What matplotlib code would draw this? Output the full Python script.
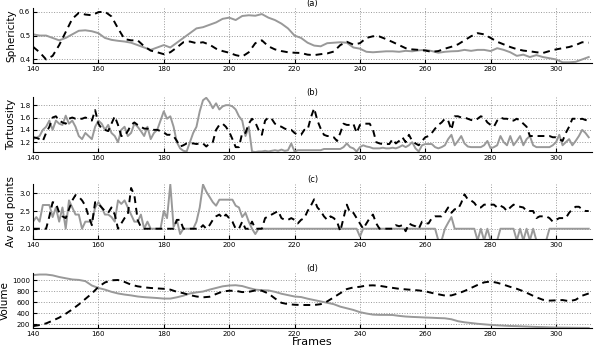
import numpy as np
import matplotlib
matplotlib.use("Agg")
import matplotlib.pyplot as plt

# sphericity, every 2 frames
sph_grey = [0.505, 0.50, 0.50, 0.49, 0.48, 0.49, 0.505, 0.52, 0.522, 0.518,
            0.51, 0.49, 0.482, 0.478, 0.475, 0.47, 0.46, 0.45, 0.44, 0.45,
            0.46, 0.45, 0.47, 0.49, 0.51, 0.53, 0.535, 0.545, 0.555, 0.57,
            0.575, 0.565, 0.582, 0.585, 0.583, 0.59, 0.575, 0.565, 0.55, 0.53,
            0.50, 0.49, 0.47, 0.458, 0.455, 0.468, 0.47, 0.472, 0.47, 0.45,
            0.445, 0.432, 0.43, 0.432, 0.434, 0.434, 0.432, 0.436, 0.434, 0.438,
            0.44, 0.435, 0.428, 0.432, 0.434, 0.435, 0.44, 0.436, 0.44, 0.44,
            0.435, 0.447, 0.44, 0.43, 0.415, 0.42, 0.41, 0.418, 0.41, 0.405,
            0.40, 0.388, 0.388, 0.39, 0.40, 0.41]
sph_dash = [0.453, 0.43, 0.40, 0.415, 0.46, 0.515, 0.57, 0.595, 0.588, 0.585,
            0.598, 0.60, 0.58, 0.53, 0.485, 0.48, 0.48, 0.455, 0.437, 0.43,
            0.422, 0.43, 0.45, 0.472, 0.475, 0.468, 0.472, 0.462, 0.445, 0.435,
            0.428, 0.418, 0.412, 0.43, 0.468, 0.48, 0.455, 0.442, 0.435, 0.43,
            0.428, 0.427, 0.42, 0.418, 0.422, 0.425, 0.433, 0.46, 0.474, 0.462,
            0.468, 0.49, 0.497, 0.496, 0.485, 0.473, 0.46, 0.447, 0.442, 0.44,
            0.437, 0.432, 0.435, 0.445, 0.453, 0.463, 0.48, 0.497, 0.51, 0.505,
            0.49, 0.474, 0.463, 0.452, 0.443, 0.437, 0.434, 0.43, 0.427, 0.435,
            0.442, 0.447, 0.452, 0.46, 0.472, 0.47]

# tortuosity, every frame
tor_grey = [1.25, 1.27, 1.30, 1.40, 1.45, 1.55, 1.40, 1.55, 1.50, 1.48,
            1.63, 1.50, 1.55, 1.45, 1.30, 1.25, 1.35, 1.30, 1.25, 1.45,
            1.55, 1.50, 1.40, 1.48, 1.35, 1.30, 1.20, 1.40, 1.45, 1.30,
            1.35, 1.50, 1.45, 1.38, 1.30, 1.45, 1.25, 1.35, 1.40, 1.55,
            1.70, 1.58, 1.62, 1.45, 1.20, 1.10, 1.06, 1.05, 1.20, 1.35,
            1.45, 1.70, 1.88, 1.92, 1.85, 1.75, 1.83, 1.73, 1.78, 1.80,
            1.80, 1.78, 1.73, 1.62, 1.55, 1.30, 1.45, 1.05, 1.04, 1.05,
            1.05, 1.06, 1.05, 1.06, 1.07, 1.06, 1.08, 1.06, 1.07, 1.18,
            1.05, 1.07, 1.07, 1.07, 1.07, 1.07, 1.07, 1.07, 1.07, 1.09,
            1.09, 1.09, 1.09, 1.09, 1.09, 1.12, 1.18, 1.12, 1.10, 1.05,
            1.12, 1.15, 1.13, 1.12, 1.10, 1.10, 1.10, 1.11, 1.10, 1.10,
            1.11, 1.10, 1.12, 1.15, 1.12, 1.15, 1.20, 1.10, 1.05, 1.15,
            1.17, 1.17, 1.17, 1.12, 1.10, 1.12, 1.15, 1.25, 1.32, 1.15,
            1.22, 1.30, 1.18, 1.13, 1.12, 1.12, 1.12, 1.12, 1.15, 1.22,
            1.10, 1.12, 1.15, 1.30, 1.20, 1.15, 1.30, 1.15, 1.22, 1.30,
            1.15, 1.25, 1.30, 1.15, 1.12, 1.12, 1.12, 1.12, 1.12, 1.15,
            1.20, 1.32, 1.15, 1.20, 1.25, 1.15, 1.22, 1.30, 1.40, 1.35,
            1.28]
tor_dash = [1.28, 1.27, 1.25, 1.22, 1.35, 1.45, 1.60, 1.62, 1.55, 1.52,
            1.50, 1.58, 1.60, 1.58, 1.58, 1.58, 1.60, 1.58, 1.55, 1.72,
            1.50, 1.42, 1.40, 1.38, 1.50, 1.62, 1.48, 1.30, 1.30, 1.38,
            1.48, 1.52, 1.48, 1.45, 1.42, 1.42, 1.40, 1.40, 1.40, 1.38,
            1.36, 1.32, 1.32, 1.30, 1.22, 1.13, 1.15, 1.18, 1.18, 1.18,
            1.17, 1.18, 1.18, 1.13, 1.18, 1.20, 1.40, 1.48, 1.50, 1.45,
            1.37, 1.25, 1.12, 1.12, 1.35, 1.35, 1.50, 1.58, 1.52, 1.40,
            1.32, 1.55, 1.60, 1.58, 1.50, 1.47, 1.45, 1.42, 1.40, 1.40,
            1.35, 1.32, 1.32, 1.40, 1.40, 1.60, 1.75, 1.55, 1.42, 1.32,
            1.30, 1.30, 1.28, 1.22, 1.35, 1.50, 1.48, 1.48, 1.50, 1.35,
            1.48, 1.50, 1.50, 1.50, 1.40, 1.20, 1.18, 1.17, 1.17, 1.17,
            1.25, 1.18, 1.22, 1.28, 1.20, 1.32, 1.22, 1.18, 1.15, 1.22,
            1.28, 1.30, 1.35, 1.42, 1.48, 1.52, 1.58, 1.55, 1.40, 1.62,
            1.62, 1.60, 1.60, 1.58, 1.56, 1.55, 1.58, 1.62, 1.60, 1.52,
            1.48, 1.45, 1.55, 1.60, 1.58, 1.58, 1.55, 1.55, 1.58, 1.55,
            1.50, 1.45, 1.30, 1.30, 1.30, 1.30, 1.30, 1.30, 1.30, 1.28,
            1.28, 1.25, 1.22, 1.35, 1.45, 1.58, 1.58, 1.57, 1.58, 1.56,
            1.55]

# average end points, every frame
end_grey = [2.2, 2.33, 2.2, 2.67, 2.67, 2.67, 2.33, 2.6, 2.2, 2.6,
            2.0, 2.8, 2.6, 2.4, 2.4, 2.0, 2.2, 2.2, 2.2, 2.6,
            2.75, 2.6, 2.4, 2.4, 2.33, 2.2, 2.8, 2.7, 2.8, 2.6,
            2.4, 2.2, 2.2, 2.4, 2.0, 2.2, 2.0, 2.0, 2.0, 2.0,
            2.5, 2.3, 3.25, 2.05, 2.25, 1.85, 2.0, 2.0, 2.0, 2.0,
            2.2, 2.6, 3.25, 3.05, 2.9, 2.75, 2.65, 2.82, 2.82, 2.82,
            2.82, 2.82, 2.65, 2.6, 2.33, 2.45, 2.2, 2.0, 1.85, 2.0,
            2.0, 2.0, 2.0, 2.0, 2.0, 2.0, 2.0, 2.0, 2.0, 2.0,
            2.0, 2.0, 2.0, 2.0, 2.0, 2.0, 2.0, 2.0, 2.0, 2.0,
            2.0, 2.0, 2.0, 2.0, 2.0, 2.0, 2.0, 2.0, 2.0, 2.0,
            1.78, 2.0, 2.0, 2.0, 2.0, 2.0, 2.0, 2.0, 2.0, 2.0,
            2.0, 2.0, 2.0, 2.0, 2.0, 2.0, 2.0, 2.0, 2.0, 2.0,
            2.0, 2.0, 2.0, 2.0, 1.67, 1.67, 2.0, 2.17, 2.33, 2.0,
            2.0, 2.0, 2.0, 2.0, 2.0, 2.0, 1.67, 2.0, 1.67, 2.0,
            1.67, 1.67, 1.67, 2.0, 2.0, 2.0, 2.0, 2.0, 1.67, 2.0,
            1.67, 2.0, 1.67, 2.0, 1.67, 1.67, 1.67, 1.67, 2.0, 2.0,
            2.0, 2.0, 2.0, 2.0, 2.0, 2.0, 2.0, 2.0, 2.0, 2.0,
            2.0]
end_dash = [2.0, 2.0, 2.0, 2.0, 2.0, 2.35, 2.75, 2.72, 2.45, 2.35,
            2.3, 2.55, 2.8, 2.95, 2.9, 2.8, 2.65, 2.35, 2.1, 2.75,
            2.7, 2.6, 2.5, 2.45, 2.6, 2.4, 2.0, 2.15, 2.3, 2.4,
            3.15, 2.95, 2.25, 2.05, 2.0, 2.0, 2.0, 2.0, 2.0, 2.0,
            2.0, 2.0, 2.0, 2.0, 2.25, 2.25, 2.0, 2.0, 2.0, 2.0,
            2.0, 2.0, 2.1, 2.0, 2.1, 2.25, 2.35, 2.4, 2.3, 2.4,
            2.3, 2.2, 2.0, 2.0, 2.2, 2.0, 2.0, 2.2, 2.0, 2.0,
            2.0, 2.3, 2.35, 2.4, 2.45, 2.5, 2.3, 2.25, 2.25, 2.3,
            2.25, 2.15, 2.25, 2.3, 2.5, 2.65, 2.83, 2.6, 2.5, 2.35,
            2.25, 2.35, 2.3, 2.2, 1.93, 2.3, 2.68, 2.45, 2.45, 2.3,
            2.15, 2.0, 2.15, 2.3, 2.4, 2.15, 2.0, 2.0, 2.0, 2.0,
            2.0, 2.1, 2.07, 2.1, 1.93, 2.15, 2.1, 2.07, 2.0, 2.2,
            2.15, 2.15, 2.3, 2.35, 2.35, 2.35, 2.45, 2.6, 2.45, 2.55,
            2.55, 2.73, 2.97, 2.83, 2.8, 2.73, 2.6, 2.6, 2.68, 2.68,
            2.68, 2.68, 2.6, 2.65, 2.6, 2.5, 2.6, 2.68, 2.65, 2.62,
            2.6, 2.5, 2.5, 2.5, 2.3, 2.35, 2.35, 2.35, 2.3, 2.2,
            2.25, 2.3, 2.3, 2.3, 2.45, 2.55, 2.62, 2.62, 2.55, 2.5,
            2.5]

# volume, every 2 frames
vol_grey = [1095, 1105, 1105, 1090, 1060, 1037, 1015, 1007, 985, 905,
            860, 830, 790, 760, 740, 725, 705, 693, 685, 677,
            667, 667, 690, 720, 760, 780, 795, 830, 860, 890,
            905, 910, 895, 860, 830, 820, 815, 790, 755, 730,
            705, 695, 665, 640, 615, 590, 565, 520, 490, 460,
            420, 395, 375, 370, 370, 368, 352, 340, 333, 328,
            322, 318, 312, 308, 290, 255, 235, 222, 208, 198,
            188, 180, 174, 168, 165, 160, 155, 150, 147, 143,
            140, 138, 137, 135, 134, 133]
vol_dash = [165, 185, 215, 265, 320, 390, 470, 560, 660, 760,
            880, 960, 1000, 1005, 970, 920, 890, 872, 860, 852,
            845, 830, 790, 765, 730, 705, 690, 700, 750, 795,
            810, 808, 785, 790, 815, 810, 760, 670, 590, 565,
            555, 550, 550, 550, 565, 615, 690, 765, 840, 870,
            882, 905, 908, 900, 880, 862, 845, 835, 825, 815,
            800, 770, 745, 722, 725, 760, 805, 860, 915, 962,
            978, 955, 920, 880, 845, 800, 745, 690, 645, 630,
            635, 640, 620, 645, 720, 760]

panels = [
    ("(a)", "Sphericity", sph_grey, sph_dash, 2, (0.385, 0.615), [0.4, 0.5, 0.6]),
    ("(b)", "Tortuosity", tor_grey, tor_dash, 1, (1.04, 1.93), [1.2, 1.4, 1.6, 1.8]),
    ("(c)", "Av end points", end_grey, end_dash, 1, (1.71, 3.26), [2, 2.5, 3]),
    ("(d)", "Volume", vol_grey, vol_dash, 2, (130, 1130), [200, 400, 600, 800, 1000]),
]
bottoms = [0.821, 0.568, 0.321, 0.068]

fig = plt.figure(figsize=(5.94, 3.52), dpi=100)
for (title, ylab, grey, dash, step, ylim, yt), b in zip(panels, bottoms):
    ax = fig.add_axes([0.0556, b, 0.941, 0.156])
    x = np.arange(140, 140 + step*len(grey), step)
    ax.plot(x, grey, color="#999999", lw=1.4)
    ax.plot(x, dash, color="black", lw=1.4, ls=(0, (3.5, 2.5)))
    ax.set_xlim(140, 311)
    ax.set_ylim(*ylim)
    ax.set_xticks([140, 160, 180, 200, 220, 240, 260, 280, 300])
    ax.set_yticks(yt)
    ax.grid(True, ls=":", color="#999999", lw=0.7)
    ax.tick_params(direction="in", labelsize=5, length=3, pad=2)
    ax.spines["top"].set_visible(False)
    ax.spines["right"].set_visible(False)
    ax.set_ylabel(ylab, fontsize=7.5, labelpad=2)
    ax.set_title(title, fontsize=6, pad=0.5)
    if title == "(d)":
        ax.set_xlabel("Frames", fontsize=8, labelpad=0)

fig.savefig("out.png", dpi=100)
